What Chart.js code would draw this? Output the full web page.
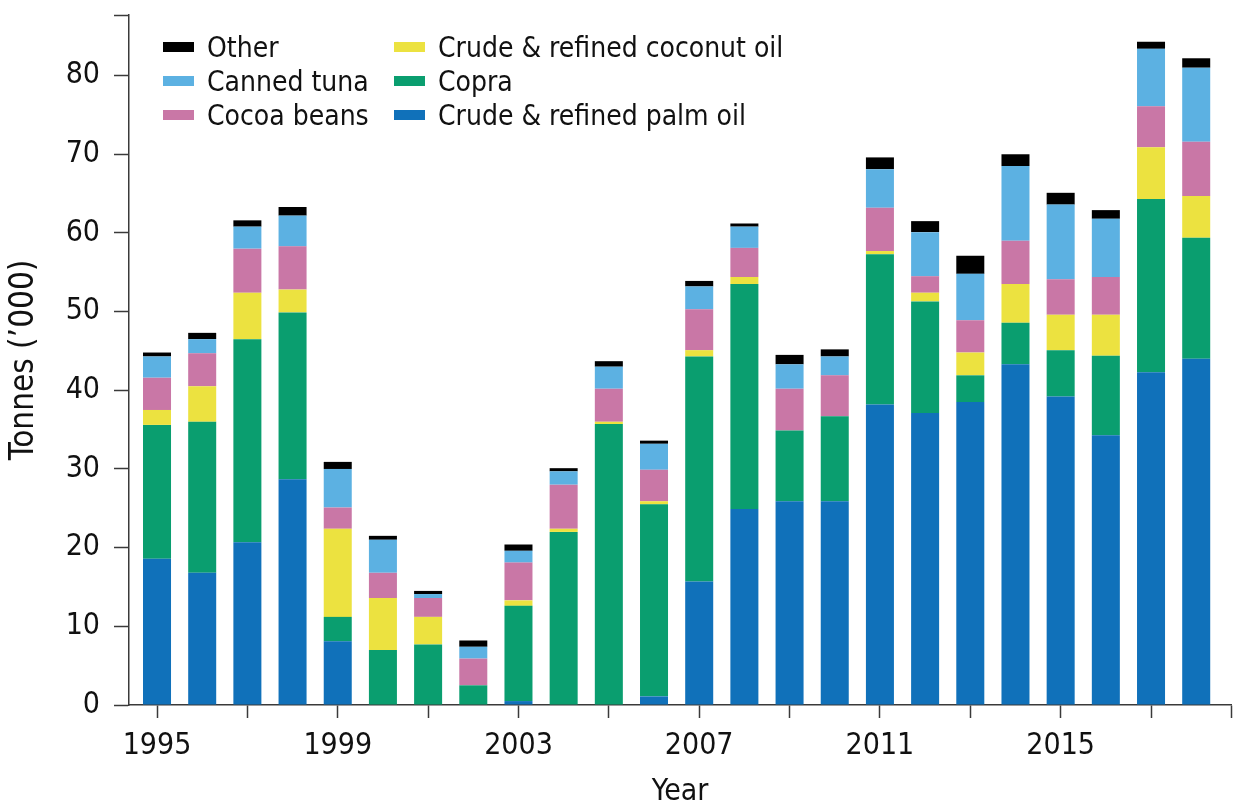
<!DOCTYPE html>
<html>
<head>
<meta charset="utf-8">
<script src="https://cdn.jsdelivr.net/npm/chart.js@4/dist/chart.umd.min.js"></script>
<style>
  html, body { margin: 0; padding: 0; background: #fff; }
  #wrap { position: relative; width: 1233px; height: 801px; }
  #legend {
    position: absolute; left: 163px; top: 30px;
    display: grid; grid-template-columns: 231px auto; grid-auto-flow: column; grid-template-rows: repeat(3, 34px);
    font-family: 'DejaVu Sans Condensed', 'Liberation Sans', sans-serif; font-size: 28px; color: #111;
  }
  #legend .item { display: flex; align-items: center; height: 34px; white-space: nowrap; }
  #legend .sw { width: 31px; height: 10px; margin-right: 13px; }
</style>
</head>
<body>
<div id="wrap">
  <canvas id="exportsChart"></canvas>
  <div id="legend"></div>
</div>
<script>
// Exports by commodity, tonnes ('000)
const years = [1995, 1996, 1997, 1998, 1999, 2000, 2001, 2002, 2003, 2004, 2005, 2006,
               2007, 2008, 2009, 2010, 2011, 2012, 2013, 2014, 2015, 2016, 2017, 2018];
const palmOil    = [18.6, 16.8, 20.7, 28.7, 8.1, 0, 0, 0, 0.5, 0, 0, 1.1, 15.7, 24.9, 25.9, 25.9, 38.2, 37.1, 38.5, 43.3, 39.2, 34.3, 42.3, 44.0];
const copra      = [17.0, 19.2, 25.8, 21.2, 3.1, 7.0, 7.7, 2.5, 12.1, 22.0, 35.7, 24.4, 28.6, 28.6, 9.0, 10.8, 19.1, 14.2, 3.4, 5.3, 5.9, 10.1, 22.0, 15.4];
const coconutOil = [1.9, 4.5, 5.9, 2.9, 11.2, 6.6, 3.5, 0, 0.7, 0.4, 0.3, 0.4, 0.8, 0.9, 0, 0, 0.4, 1.1, 2.9, 4.9, 4.5, 5.2, 6.6, 5.3];
const cocoaBeans = [4.1, 4.2, 5.6, 5.5, 2.7, 3.2, 2.4, 3.4, 4.8, 5.6, 4.2, 4.0, 5.2, 3.7, 5.3, 5.2, 5.5, 2.1, 4.1, 5.5, 4.5, 4.8, 5.2, 6.9];
const cannedTuna = [2.7, 1.8, 2.8, 3.9, 4.9, 4.2, 0.5, 1.5, 1.5, 1.7, 2.8, 3.3, 2.9, 2.7, 3.1, 2.4, 4.9, 5.6, 5.9, 9.5, 9.5, 7.4, 7.3, 9.4];
const other      = [0.5, 0.8, 0.8, 1.1, 0.9, 0.5, 0.4, 0.8, 0.8, 0.4, 0.7, 0.4, 0.7, 0.4, 1.2, 0.9, 1.5, 1.4, 2.3, 1.5, 1.5, 1.1, 0.9, 1.2];

const yTicks = [0, 10, 20, 30, 40, 50, 60, 70, 80];
const xTickYears = [1995, 1997, 1999, 2001, 2003, 2005, 2007, 2009, 2011, 2013, 2015, 2017];
const xLabelYears = [1995, 1999, 2003, 2007, 2011, 2015];

const FONT = "'DejaVu Sans Condensed', 'Liberation Sans', sans-serif";
const AXIS = '#3a3a3a';
const X_MIN = 1994.38, X_MAX = 2018.77, Y_MAX = 87.7;

// bottom of stack first
const series = [
    { label: 'Crude & refined palm oil',    data: palmOil,    color: '#1071ba' },
    { label: 'Copra',                       data: copra,      color: '#0a9e6f' },
    { label: 'Crude & refined coconut oil', data: coconutOil, color: '#ece240' },
    { label: 'Cocoa beans',                 data: cocoaBeans, color: '#c977a6' },
    { label: 'Canned tuna',                 data: cannedTuna, color: '#5cb1e2' },
    { label: 'Other',                       data: other,      color: '#000000' }
];

// --- HTML legend, two columns like the original ---
const legendOrder = ['Other', 'Canned tuna', 'Cocoa beans', 'Crude & refined coconut oil', 'Copra', 'Crude & refined palm oil'];
const legendEl = document.getElementById('legend');
legendOrder.forEach(function(name) {
    const s = series.find(function(d) { return d.label === name; });
    const item = document.createElement('div');
    item.className = 'item';
    item.innerHTML = '<span class="sw" style="background:' + s.color + '"></span><span></span>';
    item.lastChild.textContent = name;
    legendEl.appendChild(item);
});

new Chart(document.getElementById('exportsChart'), {
    type: 'bar',
    data: {
        datasets: series.map(function(s) {
            return {
                label: s.label,
                data: years.map(function(y, i) { return { x: y, y: s.data[i] }; }),
                backgroundColor: s.color,
                borderWidth: 0,
                barPercentage: 0.62,
                categoryPercentage: 1
            };
        })
    },
    options: {
        responsive: true,
        maintainAspectRatio: false,
        animation: false,
        layout: { padding: { top: 15, right: 2, left: 0, bottom: 0 } },
        plugins: {
            legend: { display: false },
            tooltip: { enabled: false }
        },
        scales: {
            x: {
                type: 'linear',
                stacked: true,
                offset: false,
                min: X_MIN,
                max: X_MAX,
                afterBuildTicks: function(scale) {
                    scale.ticks = xTickYears.concat([X_MAX]).map(function(v) { return { value: v }; });
                },
                afterFit: function(scale) {
                    scale.height = 96;
                    scale.paddingLeft = 0;
                    scale.paddingRight = 0;
                },
                grid: { offset: false, drawOnChartArea: false, drawTicks: true, tickLength: 13, tickColor: AXIS, tickWidth: 1.5 },
                border: { display: true, color: AXIS, width: 1.5 },
                ticks: {
                    autoSkip: false,
                    maxRotation: 0,
                    padding: 10,
                    color: '#111',
                    font: { family: FONT, size: 30 },
                    callback: function(value) {
                        return xLabelYears.indexOf(value) >= 0 ? String(value) : '';
                    }
                },
                title: {
                    display: true,
                    text: 'Year',
                    color: '#111',
                    font: { family: FONT, size: 30, lineHeight: 0.6 },
                    padding: { top: 0, bottom: 0 }
                }
            },
            y: {
                stacked: true,
                min: 0,
                max: Y_MAX,
                afterBuildTicks: function(scale) {
                    scale.ticks = yTicks.concat([Y_MAX]).map(function(v) { return { value: v }; });
                },
                afterFit: function(scale) {
                    scale.width = 129;
                    scale.paddingTop = 0;
                    scale.paddingBottom = 0;
                },
                grid: { drawOnChartArea: false, drawTicks: true, tickLength: 15, tickColor: AXIS, tickWidth: 1.5 },
                border: { display: true, color: AXIS, width: 1.5 },
                ticks: {
                    padding: 14,
                    color: '#111',
                    font: { family: FONT, size: 30 },
                    callback: function(value) {
                        return yTicks.indexOf(value) >= 0 ? String(value) : '';
                    }
                },
                title: {
                    display: true,
                    text: 'Tonnes (’000)',
                    color: '#111',
                    font: { family: FONT, size: 33 },
                    padding: { top: 5, bottom: 0 }
                }
            }
        }
    }
});
</script>
</body>
</html>
